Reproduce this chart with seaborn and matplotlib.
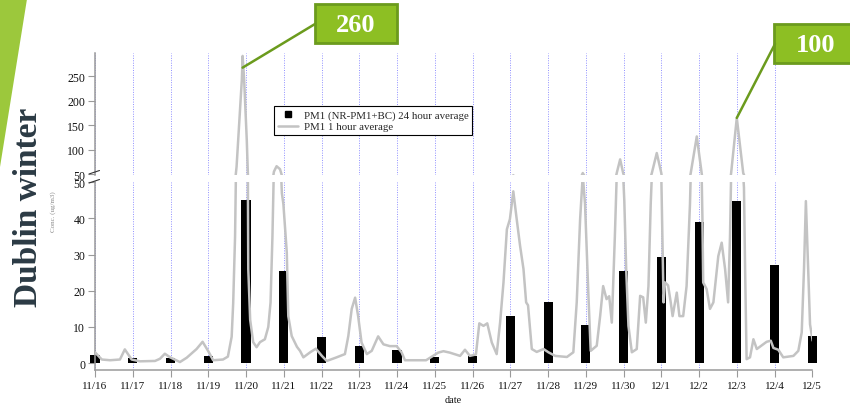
import matplotlib
matplotlib.use('Agg')
import matplotlib.pyplot as plt
import seaborn as sns
import pandas as pd
from matplotlib.patches import Polygon, Rectangle, ConnectionPatch
from matplotlib.lines import Line2D

# ---------------- data ----------------
date_labels = ['11/16', '11/17', '11/18', '11/19', '11/20', '11/21', '11/22', '11/23',
               '11/24', '11/25', '11/26', '11/27', '11/28', '11/29', '11/30', '12/1',
               '12/2', '12/3', '12/4', '12/5']
bar_days = list(range(20))
bar_values = [2.3, 1.4, 1.4, 2.0, 45.1, 25.5, 7.3, 4.8, 3.7, 1.7, 2.0, 13.1, 16.8, 10.5,
              25.4, 29.4, 38.9, 44.7, 27.1, 7.5]

hourly_days = [0.00, 0.18, 0.40, 0.66, 0.79, 0.97, 1.19, 1.59, 1.72, 1.85, 1.99, 2.07, 2.25,
               2.43, 2.69, 2.85, 3.00, 3.13, 3.39, 3.52, 3.62, 3.66, 3.71, 3.75, 3.82, 3.89,
               3.91, 3.95, 4.02, 4.06, 4.11, 4.19, 4.28, 4.37, 4.50, 4.59, 4.65, 4.70, 4.74,
               4.81, 4.90, 4.95, 4.99, 5.08, 5.12, 5.21, 5.35, 5.43, 5.52, 5.70, 5.85, 6.01,
               6.14, 6.40, 6.62, 6.71, 6.80, 6.89, 6.97, 7.06, 7.20, 7.33, 7.50, 7.64, 7.81,
               7.99, 8.12, 8.21, 8.77, 8.92, 9.09, 9.23, 9.40, 9.67, 9.80, 9.93, 10.09, 10.18,
               10.29, 10.39, 10.51, 10.64, 10.73, 10.82, 10.91, 10.99, 11.08, 11.17, 11.26,
               11.35, 11.42, 11.47, 11.57, 11.70, 11.88, 12.01, 12.19, 12.50, 12.67, 12.76,
               12.85, 12.92, 12.98, 13.07, 13.13, 13.29, 13.38, 13.46, 13.55, 13.62, 13.69,
               13.77, 13.82, 13.91, 13.99, 14.02, 14.07, 14.13, 14.22, 14.35, 14.44, 14.52,
               14.59, 14.66, 14.72, 14.75, 14.88, 15.00, 15.02, 15.06, 15.10, 15.18, 15.25,
               15.30, 15.41, 15.48, 15.58, 15.67, 15.76, 15.78, 15.94, 16.07, 16.09, 16.11,
               16.20, 16.29, 16.38, 16.51, 16.60, 16.69, 16.77, 16.82, 16.85, 17.00, 17.17,
               17.19, 17.22, 17.26, 17.35, 17.44, 17.53, 17.62, 17.70, 17.79, 17.90, 17.97,
               18.10, 18.23, 18.50, 18.63, 18.72, 18.78, 18.83, 18.89, 18.94, 19.01]
hourly_values = [3.0, 1.0, 0.8, 1.0, 3.8, 1.0, 0.5, 0.6, 1.2, 2.6, 1.6, 1.2, 0.3,
                 1.5, 3.9, 5.9, 3.3, 0.8, 1.0, 1.8, 7.3, 16.5, 35, 65, 155, 244,
                 292, 244, 120, 26, 12, 5.8, 4.4, 5.8, 6.6, 10, 16.8, 35, 55,
                 66, 60, 47, 44, 30.6, 13, 7.5, 4.5, 3.4, 1.6, 3.0, 4.0, 2.0,
                 0.6, 1.6, 2.5, 7.5, 15, 18.1, 13, 5.7, 2.5, 3.4, 7.4, 5.2, 4.7,
                 4.7, 3.0, 0.8, 0.8, 1.8, 2.9, 3.3, 2.9, 2.0, 3.7, 2.0, 2.4, 11,
                 10.3, 11, 5.7, 2.5, 11.2, 22.3, 37, 39.8, 47.5, 39.8, 32.4,
                 26, 16.8, 16, 3.9, 3.1, 3.9, 3.0, 2.0, 1.7, 3.0, 16.8,
                 39.8, 52, 44, 18.6, 3.4, 4.8, 13, 21.3, 17.7, 18.5, 11.2,
                 35, 52, 80, 52, 45, 26, 10.3, 3.0, 3.9, 18.6, 18.2,
                 11.2, 21.3, 44, 52, 93, 52, 39.8, 16.8, 22.3, 21.5, 16.8,
                 13, 19.5, 13, 13, 21.3, 44, 52, 127, 52, 39.8, 22.3,
                 20.5, 15, 16.8, 29.6, 33.3, 26, 16.8, 35, 52, 165, 52,
                 48.5, 26, 1.1, 1.6, 6.6, 3.9, 4.6, 5.2, 5.9, 6.2, 4.2,
                 3.7, 1.6, 2.0, 3.4, 8.5, 26, 44.8, 26, 10.7, 6.2]

lower_ticks = [0, 10, 20, 30, 40, 50]
upper_ticks = [50, 100, 150, 200, 250]
legend_labels = ['PM1 (NR-PM1+BC) 24 hour average', 'PM1 1 hour average']
callout_texts = ['260', '100']
callout_points = [(3.91, 268), (17.0, 165)]

bars = pd.DataFrame({'day': bar_days, 'value': bar_values})
hourly = pd.DataFrame({'day': hourly_days, 'value': hourly_values})

# ---------------- style ----------------
sns.set_style('white')
plt.rcParams['font.family'] = ['Liberation Serif', 'DejaVu Serif']

W, H = 850, 406
fig = plt.figure(figsize=(W / 100, H / 100), dpi=100)
fig.patch.set_facecolor('white')


def fx(px):
    return px / W


def fy(py):
    return 1 - py / H


x_left, x_right = 95, 812.3
ax_lo = fig.add_axes([fx(x_left), fy(371), (x_right - x_left) / W, (371 - 183.3) / H])
ax_up = fig.add_axes([fx(x_left), fy(176), (x_right - x_left) / W, (176 - 54) / H])

line_color = '#c3c3c3'
spine_color = '#9a9a9a'
grid_color = '#8f8fff'

for ax in (ax_lo, ax_up):
    ax.set_facecolor('white')
    sns.lineplot(data=hourly, x='day', y='value', ax=ax, color=line_color, lw=1.8,
                 estimator=None, sort=False, zorder=3)
    ax.set_xlim(0, 19)
    ax.set_xticks(bar_days)
    ax.grid(axis='x', color=grid_color, lw=0.7, linestyle=(0, (1, 1.5)))
    ax.grid(axis='y', visible=False)
    ax.set_axisbelow(True)
    ax.set_xlabel('')
    ax.set_ylabel('')
    for s in ('top', 'right'):
        ax.spines[s].set_visible(False)
    ax.spines['left'].set_color(spine_color)
    ax.spines['left'].set_linewidth(1.1)
    ax.tick_params(axis='y', direction='out', length=5, width=0.8, color=spine_color,
                   labelsize=8.5, pad=2, labelcolor='#111111', left=True)

sns.barplot(data=bars, x='day', y='value', ax=ax_lo, native_scale=True, width=0.24,
            color='black', saturation=1, edgecolor='none', linewidth=0, zorder=2)
for p in ax_lo.patches:
    p.set_clip_on(False)
ax_lo.set_xlim(0, 19)
ax_lo.set_xlabel('')
ax_lo.set_ylabel('')

ax_lo.set_ylim(-1.9, 50)
ax_lo.set_yticks(lower_ticks)
ax_lo.set_xticks(bar_days)
ax_lo.set_xticklabels(date_labels)
ax_lo.spines['bottom'].set_color(spine_color)
ax_lo.spines['bottom'].set_linewidth(1.1)
ax_lo.tick_params(axis='x', direction='out', length=5, width=0.8, color=spine_color,
                  labelsize=8, pad=3, labelcolor='#111111', bottom=True)

ax_up.set_ylim(48, 298)
ax_up.set_yticks(upper_ticks)
ax_up.spines['bottom'].set_visible(False)
ax_up.tick_params(axis='x', length=0, labelbottom=False)

# legend
handles = [Line2D([], [], marker='s', color='black', linestyle='none', markersize=4.5),
           Line2D([], [], color=line_color, lw=1.8)]
leg = ax_up.legend(handles, legend_labels, loc='upper left',
                   bbox_to_anchor=((274 - x_left) / (x_right - x_left), (176 - 107) / 122),
                   borderaxespad=0, frameon=True, fancybox=False, framealpha=1,
                   edgecolor='black', prop={'family': 'Liberation Serif', 'size': 7.8},
                   handlelength=1.9, handletextpad=0.5, borderpad=0.35, labelspacing=0.2)
leg.get_frame().set_linewidth(0.8)

# axis break marks
for y0 in (175, 184):
    fig.add_artist(Line2D([fx(89), fx(99.5)], [fy(y0), fy(y0 - 3.5)], color='#333333',
                          lw=0.8, transform=fig.transFigure))

# axis titles
fig.text(fx(53), fy(212), 'Conc. (ug/m3)', rotation=90, ha='center', va='center',
         fontsize=5, color='#888888')
fig.text(fx(453), fy(401), 'date', ha='center', va='center', fontsize=7.3, color='#111111')

# slide title and decoration
fig.add_artist(Polygon([(0, 1), (fx(27), 1), (0, fy(168))], closed=True,
                       transform=fig.transFigure, facecolor='#9cc83c', edgecolor='none'))
fig.text(fx(29), fy(207), 'Dublin winter', rotation=90, ha='center', va='center',
         fontsize=24, fontweight='bold', color='#2b3a44')

# callouts
box_green = '#8dbf23'
box_edge = '#6b9b1d'
boxes = [(315, 5, 397, 44), (774, 25, 860, 64)]
anchors = [(315, 25), (775, 45)]
for txt, (x0, y0, x1, y1), anc, pt in zip(callout_texts, boxes, anchors, callout_points):
    fig.add_artist(Rectangle((fx(x0), fy(y1)), (x1 - x0) / W, (y1 - y0) / H,
                             transform=fig.transFigure, facecolor=box_green,
                             edgecolor=box_edge, lw=2, clip_on=False))
    cx = (x0 + min(x1, 857)) / 2 if x1 < 850 else 816
    fig.text(fx(cx), fy((y0 + y1) / 2 + 1), txt, ha='center', va='center', fontsize=19,
             fontweight='bold', color='white')
    con = ConnectionPatch(xyA=pt, coordsA='data', axesA=ax_up,
                          xyB=(fx(anc[0]), fy(anc[1])), coordsB='figure fraction',
                          color=box_edge, lw=1.8)
    con.set_clip_on(False)
    fig.add_artist(con)

fig.savefig('out.png', dpi=100)
